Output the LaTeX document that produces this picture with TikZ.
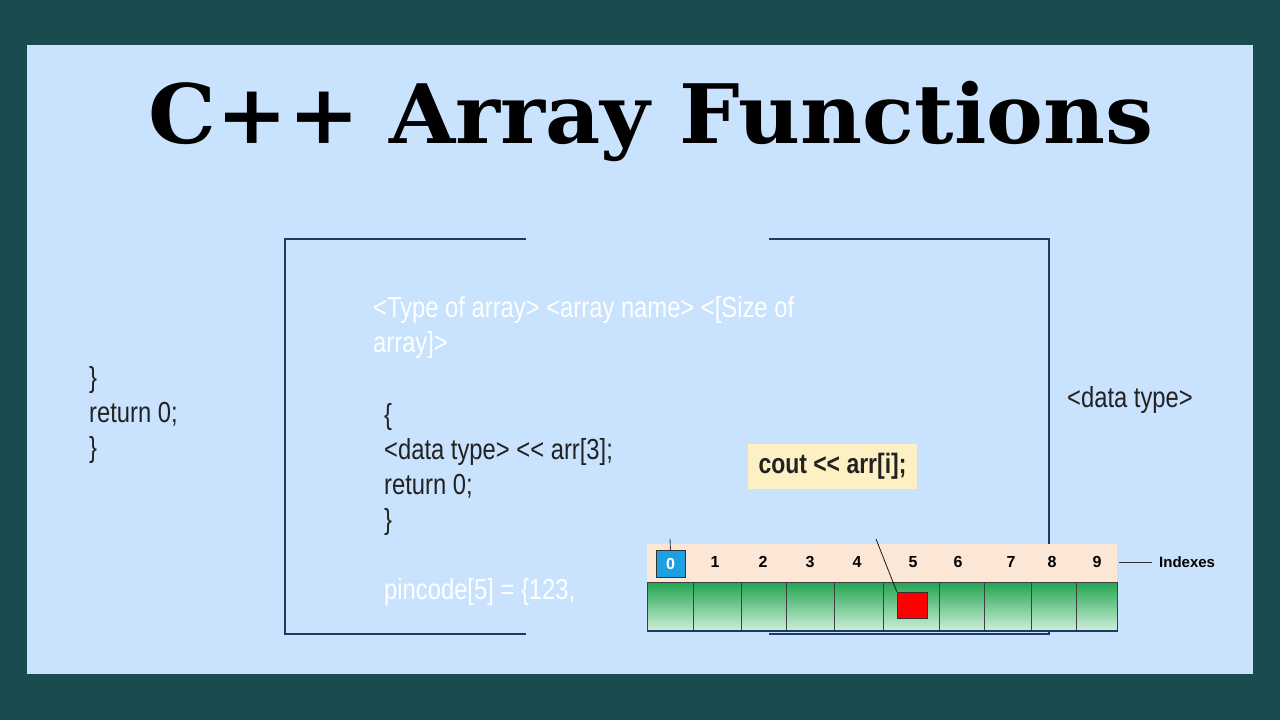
\documentclass[tikz,border=0pt]{standalone}
\usepackage{fontspec}
\setmainfont{Liberation Sans}
\newfontfamily\titlefont[FakeStretch=1.04]{DejaVu Serif}
\newfontfamily\codefont[FakeStretch=0.82]{Liberation Sans}
\usepackage{xcolor}
\usetikzlibrary{positioning}

\definecolor{tealback}{HTML}{1A4B4F}
\definecolor{skyback}{HTML}{C9E2FD}
\definecolor{framenavy}{HTML}{1E3A5F}
\definecolor{codeink}{HTML}{222222}
\definecolor{butter}{HTML}{FDF1C4}
\definecolor{peach}{HTML}{FCE6D6}
\definecolor{zeroblue}{HTML}{1BA1E2}
\definecolor{cellgreen}{HTML}{24A552}
\definecolor{cellmint}{HTML}{CDEFD9}

\begin{document}
\begin{tikzpicture}[x=1pt, y=-1pt,
  code/.style={anchor=base west, inner sep=0pt, font=\codefont\fontsize{29}{34}\selectfont, text=codeink},
  ghost/.style={code, text=white},
  frame/.style={draw=framenavy, line width=2.5pt},
  idx/.style={font=\bfseries\fontsize{16}{18}\selectfont, inner sep=0pt, anchor=center},
  cell/.style={draw=black!75, line width=0.8pt, top color=cellgreen, bottom color=cellmint,
               minimum height=48, inner sep=0pt, anchor=north west}]
  % background
  \fill[tealback] (0,0) rectangle (1280,720);
  \fill[skyback] (27,45) rectangle (1253,674);
  \useasboundingbox (0,0) rectangle (1280,720);
  \node[font=\titlefont\bfseries\fontsize{82}{90}\selectfont, anchor=base, inner sep=0pt] (title) at (651,143) {C++ Array Functions};
  % open frame
  \draw[frame] (526,239) -- (285,239) -- (285,634) -- (526,634);
  \draw[frame] (769,239) -- (1049,239) -- (1049,634) -- (769,634);
  % left code
  \node[code] (lclose) at (89,387) {\}};
  \node[code] (lret)   at (89,422) {return 0;};
  \node[code] (lend)   at (89,457) {\}};
  % inside the frame
  \node[ghost] (syn1) at (373,317) {<Type of array> <array name> <[Size of};
  \node[ghost] (syn2) at (373,352) {array]>};
  \node[code] (open)  at (384,424) {\{};
  \node[code] (print) at (384,459) {<data type> << arr[3];};
  \node[code] (ret)   at (384,494) {return 0;};
  \node[code] (close) at (384,529) {\}};
  \node[ghost] (pin)  at (384,599) {pincode[5] = \{123,};
  \node[code] (dtype) at (1067,407) {<data type>};
  \node[fill=butter, font=\codefont\bfseries\fontsize{28}{32}\selectfont, text=codeink,
        minimum width=169, minimum height=45, inner sep=0pt] (cout) at (832.5,466.5) {cout << arr[i];};
  % array
  \node[fill=peach, minimum width=470, minimum height=38, inner sep=0pt, anchor=north west] (strip) at (647,544) {};
  \foreach \a/\b [count=\k from 0] in {647/693,693/741,741/786,786/834,834/883,883/939,939/984,984/1031,1031/1076,1076/1117}
    \node[cell, minimum width=\b-\a] (c\k) at (\a,582) {};
  \draw[framenavy, line width=2pt] (c0.south west) -- (c9.south east);
  \node[idx, draw=black!80, fill=zeroblue, text=white, minimum width=29, minimum height=27] (i0) at (670.5,563.5) {0};
  \foreach \d/\x in {1/715,2/763,3/810,4/857,5/913,6/958,7/1011,8/1052,9/1097}
    \node[idx] (i\d) at (\x,562) {\d};
  \coordinate (tick) at (670,539);
  \draw[black!80, line width=0.8pt] (i0.north) -- (tick);
  \node[draw=black!80, fill=red, minimum width=30, minimum height=26, inner sep=0pt] (hit) at (912,605) {};
  \coordinate (ptr) at (876,539);
  \draw[black!90, line width=0.8pt] (ptr) -- (hit.north west);
  \node[font=\bfseries\fontsize{15}{17}\selectfont, anchor=west, inner sep=0pt] (idxlabel) at (1159,562) {Indexes};
  \draw[black!80, line width=0.8pt, shorten <=7pt, shorten >=2pt] (idxlabel.west) -- (idxlabel.west -| strip.east);
\end{tikzpicture}
\end{document}
